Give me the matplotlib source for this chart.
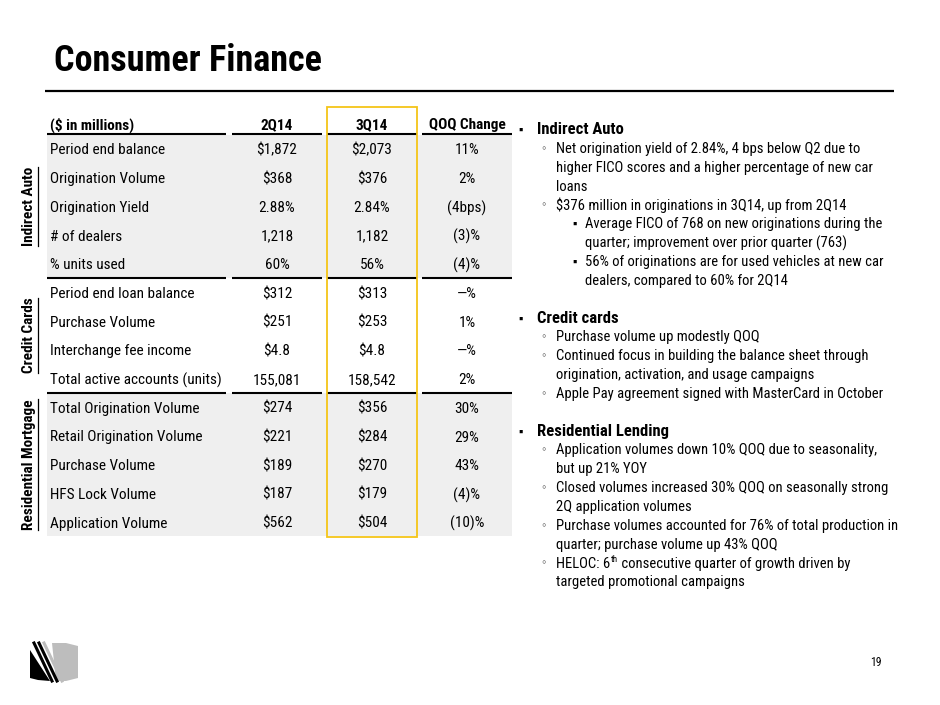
import matplotlib
matplotlib.use('Agg')
import matplotlib.pyplot as plt
from matplotlib.patches import Rectangle, Polygon

NARROW = ['Roboto Condensed', 'Liberation Sans', 'DejaVu Sans']
SANS = ['Liberation Sans', 'DejaVu Sans']

# table data
headers = ['($ in millions)', '2Q14', '3Q14', 'QOQ Change']
row_labels = ['Period end balance', 'Origination Volume', 'Origination Yield', '# of dealers',
              '% units used', 'Period end loan balance', 'Purchase Volume', 'Interchange fee income',
              'Total active accounts (units)', 'Total Origination Volume', 'Retail Origination Volume',
              'Purchase Volume', 'HFS Lock Volume', 'Application Volume']
vals_2q14 = ['$1,872', '$368', '2.88%', '1,218', '60%', '$312', '$251', '$4.8', '155,081',
             '$274', '$221', '$189', '$187', '$562']
vals_3q14 = ['$2,073', '$376', '2.84%', '1,182', '56%', '$313', '$253', '$4.8', '158,542',
             '$356', '$284', '$270', '$179', '$504']
qoq_change = ['11%', '2%', '(4bps)', '(3)%', '(4)%', '\u2014%', '1%', '\u2014%', '2%',
              '30%', '29%', '43%', '(4)%', '(10)%']
sections = ['Indirect Auto', 'Credit Cards', 'Residential Mortgage']
section_sizes = [5, 4, 5]

# commentary bullets: (level, wrapped lines); None = blank line
bullets = [
    (0, ['Indirect Auto']),
    (1, ['Net origination yield of 2.84%, 4 bps below Q2 due to',
         'higher FICO scores and a higher percentage of new car', 'loans']),
    (1, ['$376 million in originations in 3Q14, up from 2Q14']),
    (2, ['Average FICO of 768 on new originations during the',
         'quarter; improvement over prior quarter (763)']),
    (2, ['56% of originations are for used vehicles at new car',
         'dealers, compared to 60% for 2Q14']),
    None,
    (0, ['Credit cards']),
    (1, ['Purchase volume up modestly QOQ']),
    (1, ['Continued focus in building the balance sheet through',
         'origination, activation, and usage campaigns']),
    (1, ['Apple Pay agreement signed with MasterCard in October']),
    None,
    (0, ['Residential Lending']),
    (1, ['Application volumes down 10% QOQ due to seasonality,', 'but up 21% YOY']),
    (1, ['Closed volumes increased 30% QOQ on seasonally strong', '2Q application volumes']),
    (1, ['Purchase volumes accounted for 76% of total production in',
         'quarter; purchase volume up 43% QOQ']),
    (1, ['HELOC: 6<sup>th</sup> consecutive quarter of growth driven by',
         'targeted promotional campaigns']),
]

fig = plt.figure(figsize=(9.4, 7.05), dpi=100)
ax = fig.add_axes([0, 0, 1, 1])
ax.set_xlim(0, 940)
ax.set_ylim(705, 0)
ax.axis('off')

# title + rule
ax.text(54, 71, 'Consumer Finance', family=NARROW, weight='bold', fontsize=26, va='baseline')
ax.plot([45, 894], [91, 91], color='black', lw=1.6, solid_capstyle='butt')

# table geometry
cols = [(47, 226), (232, 322), (327, 417), (422, 512)]
header_y = 125
row_y0 = 149
row_step = 28.7
tsize = 11
dy = 1.5  # text sits a touch low in its row

ax.text(50, header_y, headers[0], family=NARROW, weight='bold', fontsize=tsize, va='center')
for (x0, x1), h in zip(cols[1:], headers[1:]):
    ax.text((x0 + x1) / 2, header_y, h, family=NARROW, weight='bold', fontsize=tsize,
            va='center', ha='center')

# grey bands and section separators
start = 0
seps = [134]
for i, n in enumerate(section_sizes):
    top = row_y0 + (start - 0.5) * row_step
    bot = row_y0 + (start + n - 0.5) * row_step
    if i != 1:
        ax.add_patch(Rectangle((47, top), 512 - 47, bot - top, color='#efefef', lw=0, zorder=0))
    if i < len(section_sizes) - 1:
        seps.append(bot)
    start += n
for y in seps:
    for x0, x1 in cols:
        ax.plot([x0, x1], [y, y], color='black', lw=1.5, solid_capstyle='butt')

for i, (lab, a, b, c) in enumerate(zip(row_labels, vals_2q14, vals_3q14, qoq_change)):
    y = row_y0 + i * row_step + dy
    ax.text(50, y, lab, family=NARROW, fontsize=tsize, va='center')
    for (x0, x1), v in zip(cols[1:], [a, b, c]):
        ax.text((x0 + x1) / 2, y, v, family=NARROW, fontsize=tsize, va='center', ha='center')

# highlight box around 3Q14
ax.add_patch(Rectangle((327, 107), 90, 430, fill=False, edgecolor='#f5c518', lw=1.3, zorder=5))

# rotated section labels (underlined)
sec_texts = []
start = 0
for name, n in zip(sections, section_sizes):
    yc = row_y0 + (start + (n - 1) / 2) * row_step
    t = ax.text(29, yc, name, family=NARROW, weight='bold', fontsize=tsize, rotation=90,
                va='center', ha='center')
    sec_texts.append(t)
    start += n

fig.canvas.draw()
renderer = fig.canvas.get_renderer()
inv = ax.transData.inverted()
for t in sec_texts:
    bb = t.get_window_extent(renderer)
    (xa, ya), (xb, yb) = inv.transform([[bb.x0, bb.y0], [bb.x1, bb.y1]])
    ax.plot([37.5, 37.5], [ya, yb], color='black', lw=0.9)

# commentary
line_y = 130
step = 18.85
xs = {0: (521, 537), 1: (544, 556), 2: (575, 585)}
for item in bullets:
    if item is None:
        line_y += step
        continue
    level, lines = item
    bx, tx = xs[level]
    if level == 1:
        ax.text(bx, line_y, '\u25e6', family=SANS, fontsize=9, va='center', ha='center', color='#555555')
    else:
        ax.text(bx, line_y + 1, '\u25aa', family=SANS, fontsize=9, va='center', ha='center')
    for ln in lines:
        if level == 0:
            ax.text(tx, line_y, ln, family=NARROW, weight='bold', fontsize=12, va='center')
        elif '<sup>' in ln:
            pre, rest = ln.split('<sup>')
            sup, post = rest.split('</sup>')
            t1 = ax.text(tx, line_y, pre, family=NARROW, fontsize=10.5, va='center')
            fig.canvas.draw()
            bb = t1.get_window_extent(renderer)
            x1 = inv.transform([[bb.x1, bb.y0]])[0][0]
            t2 = ax.text(x1 + 0.5, line_y - 4, sup, family=NARROW, fontsize=6.5, va='center')
            fig.canvas.draw()
            bb = t2.get_window_extent(renderer)
            x2 = inv.transform([[bb.x1, bb.y0]])[0][0]
            ax.text(x2, line_y, post, family=NARROW, fontsize=10.5, va='center')
        else:
            ax.text(tx, line_y, ln, family=NARROW, fontsize=10.5, va='center')
        line_y += step

# page number
ax.text(876, 662, '19', family=NARROW, fontsize=8.5, va='center', ha='center')

# simple logo
ax.add_patch(Polygon([[52, 643], [66, 643], [78, 646], [78, 678], [66, 681], [56, 681]],
                     closed=True, color='#bdbdbd', lw=0))
ax.add_patch(Polygon([[30, 650], [50, 681], [38, 680], [30, 678]], closed=True, color='black', lw=0))
for dx, c in [(0, 'black'), (5, 'black'), (10, '#bdbdbd')]:
    ax.plot([34 + dx, 52 + dx], [643, 681], color=c, lw=2.2)

fig.savefig('out.png', dpi=100, facecolor='white')
